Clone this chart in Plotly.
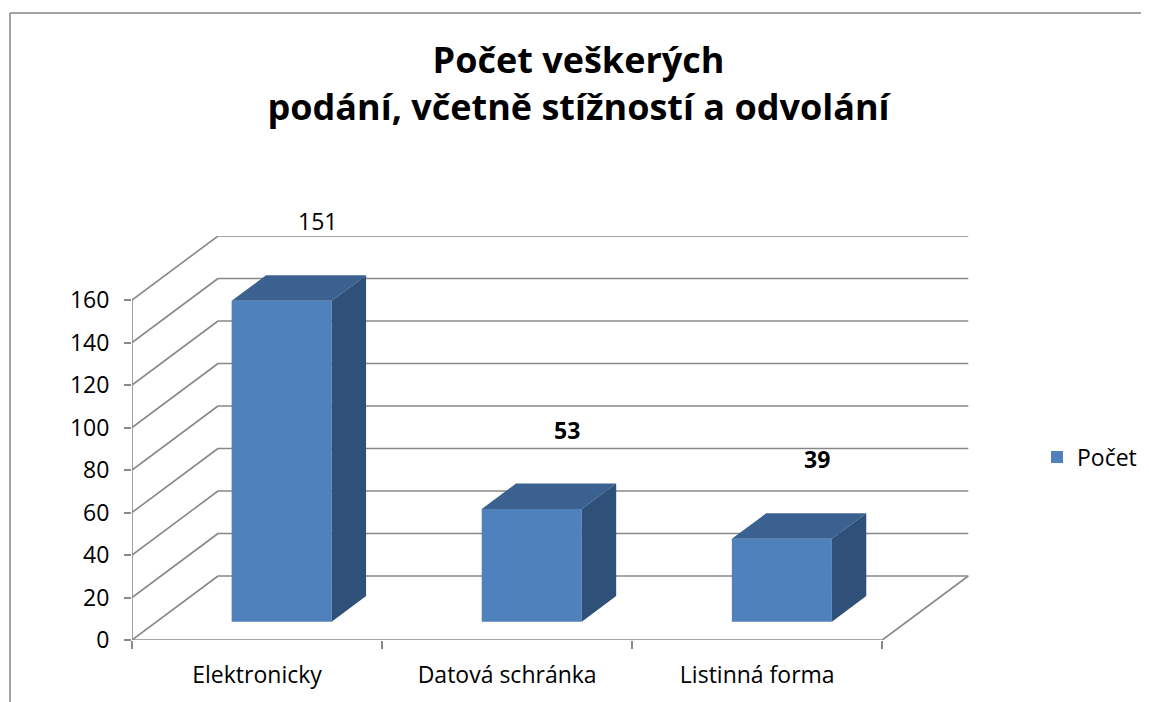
import plotly.graph_objects as go

# ---- data ----
categories = ["Elektronicky", "Datová schránka", "Listinná forma"]
values = [151, 53, 39]
label_bold = [False, True, True]
series_name = "Počet"
y_ticks = [0, 20, 40, 60, 80, 100, 120, 140, 160]
title_lines = ["Počet veškerých", "podání, včetně stížností a odvolání"]

# ---- layout geometry (pseudo-3D) ----
OFF = 8                       # page body margin of the html page
W, H = 1149 - OFF, 702 - OFF
ML, MR, MT, MB = 132 - OFF, 180, 236 - OFF, 62
PX_PER_CAT = 250.1
PX_PER_UNIT = 2.125
plot_w = W - ML - MR
plot_h = H - MT - MB
XMAX = plot_w / PX_PER_CAT
YMAX = plot_h / PX_PER_UNIT
DX = 86 / PX_PER_CAT          # depth offset in x units
DY = YMAX - max(y_ticks)      # depth offset in y units
F = 0.286                      # bar front position within depth
D = 0.4                        # bar depth fraction
BW = 0.4                       # bar width (category units)
ncat = len(categories)

FONT = "Open Sans"
FS = 23
GRID = "#888888"
FRONT = "#4F81BD"
TOP = "#3B6191"
SIDE = "#2F5179"

fig = go.Figure()

# wireframe as shapes (below traces)
shapes = []
def seg(x0, y0, x1, y1):
    shapes.append(dict(type="line", xref="x", yref="y", x0=x0, y0=y0, x1=x1, y1=y1,
                       line=dict(color=GRID, width=1.6), layer="below"))

for v in y_ticks:
    seg(DX, v + DY, ncat + DX, v + DY)   # back wall
    seg(0, v, DX, v + DY)                # side wall
seg(0, 0, 0, max(y_ticks))               # front vertical axis
seg(0, 0, ncat, 0)                       # floor front edge
seg(ncat, 0, ncat + DX, DY)              # floor right edge

# chart border (top and left edges)
bx = (10 - OFF - ML) / plot_w
by = (H - MB - (13 - OFF)) / plot_h
shapes.append(dict(type="line", xref="paper", yref="paper", x0=bx, y0=by, x1=1.3, y1=by,
                   line=dict(color="#868686", width=1.5)))
shapes.append(dict(type="line", xref="paper", yref="paper", x0=bx, y0=by, x1=bx, y1=-0.2,
                   line=dict(color="#868686", width=1.5)))

# front faces
fx = [i + 0.5 + F * DX for i in range(ncat)]
fig.add_trace(go.Bar(
    x=fx, y=values, base=[F * DY] * ncat, width=BW,
    marker=dict(color=FRONT, line=dict(width=0)),
    name=series_name, showlegend=True, hoverinfo="skip"))

# top and side faces
for i, v in enumerate(values):
    x0 = fx[i] - BW / 2
    x1 = fx[i] + BW / 2
    y0 = F * DY
    y1 = v + F * DY
    ddx, ddy = D * DX, D * DY
    fig.add_trace(go.Scatter(
        x=[x0, x1, x1 + ddx, x0 + ddx, x0], y=[y1, y1, y1 + ddy, y1 + ddy, y1],
        fill="toself", fillcolor=TOP, mode="lines", line=dict(width=0, color=TOP),
        showlegend=False, hoverinfo="skip"))
    fig.add_trace(go.Scatter(
        x=[x1, x1 + ddx, x1 + ddx, x1, x1], y=[y0, y0 + ddy, y1 + ddy, y1, y0],
        fill="toself", fillcolor=SIDE, mode="lines", line=dict(width=0, color=SIDE),
        showlegend=False, hoverinfo="skip"))

# data labels
annotations = []
for i, v in enumerate(values):
    txt = f"<b>{v}</b>" if label_bold[i] else str(v)
    annotations.append(dict(x=i + 0.5 + 0.24, y=(v + 46) / YMAX, xref="x", yref="paper",
                            xanchor="center", yanchor="middle", text=txt,
                            showarrow=False, font=dict(family=FONT, size=FS, color="black")))

fig.update_layout(
    width=W, height=H, autosize=False,
    margin=dict(l=ML, r=MR, t=MT, b=MB, autoexpand=False),
    paper_bgcolor="white", plot_bgcolor="white",
    title=dict(text="<b>" + "<br>".join(title_lines) + "</b>",
               x=0.5, xanchor="center", y=1 - 65 / H, yanchor="middle", yref="container",
               font=dict(family=FONT, size=36, color="black")),
    font=dict(family=FONT, size=FS, color="black"),
    shapes=shapes, annotations=annotations,
    showlegend=True,
    legend=dict(x=(1037 - OFF - ML) / plot_w, y=(H - MB - (457 - OFF)) / plot_h,
                xanchor="left", yanchor="middle",
                font=dict(family=FONT, size=FS, color="black"), bgcolor="rgba(0,0,0,0)"),
    xaxis=dict(range=[0, XMAX], tickvals=[i + 0.5 for i in range(ncat)], ticktext=categories,
               ticks="", showgrid=False, zeroline=False, showline=False,
               ticklabelstandoff=19,
               tickfont=dict(family=FONT, size=FS, color="black"),
               minor=dict(tickvals=list(range(ncat + 1)), ticks="outside", ticklen=8,
                          tickcolor=GRID, tickwidth=1.6, showgrid=False)),
    yaxis=dict(range=[0, YMAX], tickvals=y_ticks, ticks="outside", ticklen=7,
               tickcolor=GRID, tickwidth=1.6, showgrid=False, zeroline=False, showline=False,
               ticklabelstandoff=10,
               tickfont=dict(family=FONT, size=FS, color="black")),
)

fig.write_html("out.html")
